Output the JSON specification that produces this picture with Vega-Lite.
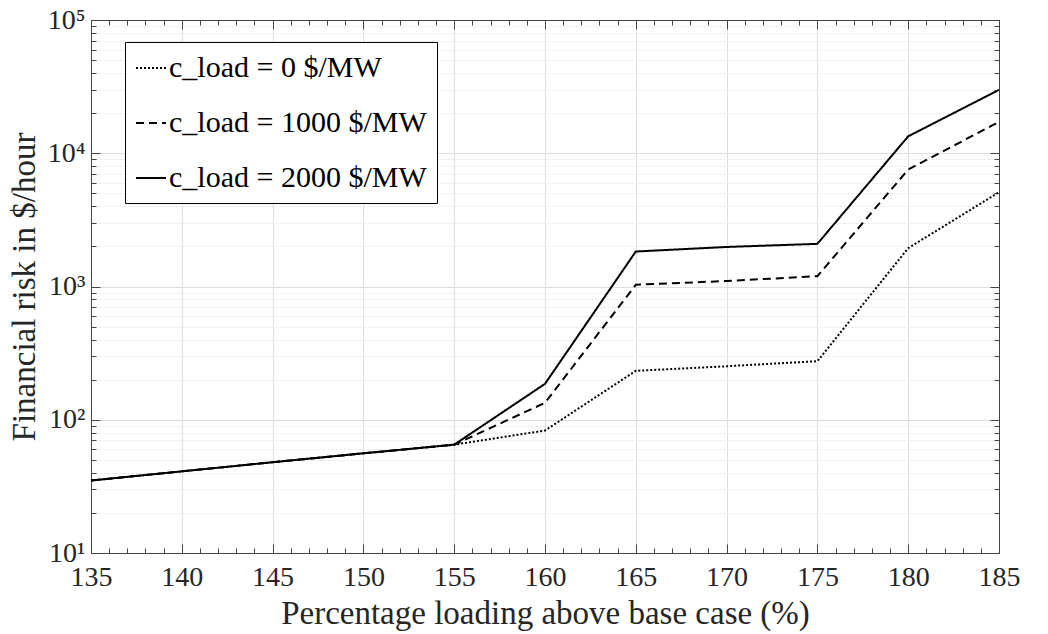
{
  "$schema": "https://vega.github.io/schema/vega-lite/v6.json",
  "width": 908,
  "height": 533,
  "autosize": "none",
  "padding": {"left": 91, "top": 20, "right": 49, "bottom": 81},
  "background": "white",
  "config": {
    "view": {"stroke": "#444", "strokeWidth": 1},
    "font": "Times New Roman, DejaVu Serif",
    "axis": {"labelFont": "Times New Roman, DejaVu Serif", "titleFont": "Times New Roman, DejaVu Serif", "labelColor": "#262626", "titleColor": "#262626", "titleFontWeight": "normal", "domainColor": "#444", "tickColor": "#444", "labelFlush": false}
  },
  "data": {
    "values": [
      {"x": 135, "risk": 35, "c": "c_load = 0 $/MW"},
      {"x": 140, "risk": 41, "c": "c_load = 0 $/MW"},
      {"x": 145, "risk": 48, "c": "c_load = 0 $/MW"},
      {"x": 150, "risk": 56, "c": "c_load = 0 $/MW"},
      {"x": 155, "risk": 65, "c": "c_load = 0 $/MW"},
      {"x": 160, "risk": 83, "c": "c_load = 0 $/MW"},
      {"x": 165, "risk": 233, "c": "c_load = 0 $/MW"},
      {"x": 170, "risk": 252, "c": "c_load = 0 $/MW"},
      {"x": 175, "risk": 275, "c": "c_load = 0 $/MW"},
      {"x": 180, "risk": 1940, "c": "c_load = 0 $/MW"},
      {"x": 185, "risk": 5100, "c": "c_load = 0 $/MW"},
      {"x": 135, "risk": 35, "c": "c_load = 1000 $/MW"},
      {"x": 140, "risk": 41, "c": "c_load = 1000 $/MW"},
      {"x": 145, "risk": 48, "c": "c_load = 1000 $/MW"},
      {"x": 150, "risk": 56, "c": "c_load = 1000 $/MW"},
      {"x": 155, "risk": 65, "c": "c_load = 1000 $/MW"},
      {"x": 160, "risk": 134, "c": "c_load = 1000 $/MW"},
      {"x": 165, "risk": 1030, "c": "c_load = 1000 $/MW"},
      {"x": 170, "risk": 1100, "c": "c_load = 1000 $/MW"},
      {"x": 175, "risk": 1195, "c": "c_load = 1000 $/MW"},
      {"x": 180, "risk": 7540, "c": "c_load = 1000 $/MW"},
      {"x": 185, "risk": 17200, "c": "c_load = 1000 $/MW"},
      {"x": 135, "risk": 35, "c": "c_load = 2000 $/MW"},
      {"x": 140, "risk": 41, "c": "c_load = 2000 $/MW"},
      {"x": 145, "risk": 48, "c": "c_load = 2000 $/MW"},
      {"x": 150, "risk": 56, "c": "c_load = 2000 $/MW"},
      {"x": 155, "risk": 65, "c": "c_load = 2000 $/MW"},
      {"x": 160, "risk": 186, "c": "c_load = 2000 $/MW"},
      {"x": 165, "risk": 1830, "c": "c_load = 2000 $/MW"},
      {"x": 170, "risk": 1980, "c": "c_load = 2000 $/MW"},
      {"x": 175, "risk": 2090, "c": "c_load = 2000 $/MW"},
      {"x": 180, "risk": 13400, "c": "c_load = 2000 $/MW"},
      {"x": 185, "risk": 29900, "c": "c_load = 2000 $/MW"}
    ]
  },
  "layer": [
    {
      "mark": {"type": "line", "color": "black", "strokeWidth": 2},
      "encoding": {
        "x": {
          "field": "x", "type": "quantitative",
          "scale": {"domain": [135, 185], "nice": false, "zero": false},
          "axis": {
            "orient": "bottom",
            "values": [135,136,137,138,139,140,141,142,143,144,145,146,147,148,149,150,151,152,153,154,155,156,157,158,159,160,161,162,163,164,165,166,167,168,169,170,171,172,173,174,175,176,177,178,179,180,181,182,183,184,185],
            "format": "d",
            "labelExpr": "datum.value % 5 == 0 ? datum.label : ''",
            "labelFontSize": 28,
            "labelPadding": 19,
            "labelOverlap": false,
            "labelFlush": false,
            "tickSize": {"condition": {"test": "datum.value % 5 == 0", "value": -9}, "value": -5},
            "grid": true,
            "gridColor": "#dedede",
            "gridOpacity": {"condition": {"test": "datum.value % 5 == 0", "value": 1}, "value": 0},
            "title": "Percentage loading above base case (%)",
            "titleFontSize": 33,
            "titlePadding": 2
          }
        },
        "y": {
          "field": "risk", "type": "quantitative",
          "scale": {"type": "log", "domain": [10, 100000], "nice": false},
          "axis": {
            "orient": "left",
            "values": [10,20,30,40,50,60,70,80,90,100,200,300,400,500,600,700,800,900,1000,2000,3000,4000,5000,6000,7000,8000,9000,10000,20000,30000,40000,50000,60000,70000,80000,90000,100000],
            "labelExpr": "indexof([10,100,1000,10000,100000], datum.value) >= 0 ? '10' + ['¹','²','³','⁴','⁵'][round(log(datum.value)/LN10)-1] : ''",
            "labelFontSize": 28,
            "labelPadding": 15,
            "labelOverlap": false,
            "labelFlush": false,
            "tickSize": {"condition": {"test": "indexof([10,100,1000,10000,100000], datum.value) >= 0", "value": -9}, "value": -5},
            "grid": true,
            "gridColor": {"condition": {"test": "indexof([10,100,1000,10000,100000], datum.value) >= 0", "value": "#dedede"}, "value": "#e4e4e4"},
            "gridDash": {"condition": {"test": "indexof([10,100,1000,10000,100000], datum.value) >= 0", "value": []}, "value": [2, 2]},
            "title": "Financial risk in $/hour",
            "titleFontSize": 33,
            "titlePadding": 6
          }
        },
        "strokeDash": {
          "field": "c", "type": "nominal",
          "scale": {"domain": ["c_load = 0 $/MW", "c_load = 1000 $/MW", "c_load = 2000 $/MW"], "range": [[2, 2], [8, 5], [1, 0]]},
          "legend": {
            "orient": "none",
            "legendX": 34,
            "legendY": 22,
            "title": null,
            "strokeColor": "black",
            "fillColor": "white",
            "padding": 10,
            "labelFont": "Times New Roman, DejaVu Serif",
            "labelFontSize": 30,
            "labelColor": "black",
            "labelOffset": 2,
            "symbolType": "stroke",
            "symbolSize": 900,
            "symbolStrokeWidth": 2,
            "symbolStrokeColor": "black",
            "rowPadding": 24,
            "labelLimit": 400
          }
        }
      }
    },
    {
      "mark": {"type": "line", "opacity": 0},
      "encoding": {
        "x": {
          "field": "x", "type": "quantitative",
          "axis": {
            "orient": "top",
            "values": [135,136,137,138,139,140,141,142,143,144,145,146,147,148,149,150,151,152,153,154,155,156,157,158,159,160,161,162,163,164,165,166,167,168,169,170,171,172,173,174,175,176,177,178,179,180,181,182,183,184,185],
            "labels": false,
            "grid": false,
            "title": null,
            "tickSize": {"condition": {"test": "datum.value % 5 == 0", "value": -9}, "value": -5}
          }
        },
        "y": {
          "field": "risk", "type": "quantitative",
          "axis": {
            "orient": "right",
            "values": [10,20,30,40,50,60,70,80,90,100,200,300,400,500,600,700,800,900,1000,2000,3000,4000,5000,6000,7000,8000,9000,10000,20000,30000,40000,50000,60000,70000,80000,90000,100000],
            "labels": false,
            "grid": false,
            "title": null,
            "tickSize": {"condition": {"test": "indexof([10,100,1000,10000,100000], datum.value) >= 0", "value": -9}, "value": -5}
          }
        }
      }
    }
  ],
  "resolve": {"axis": {"x": "independent", "y": "independent"}}
}
